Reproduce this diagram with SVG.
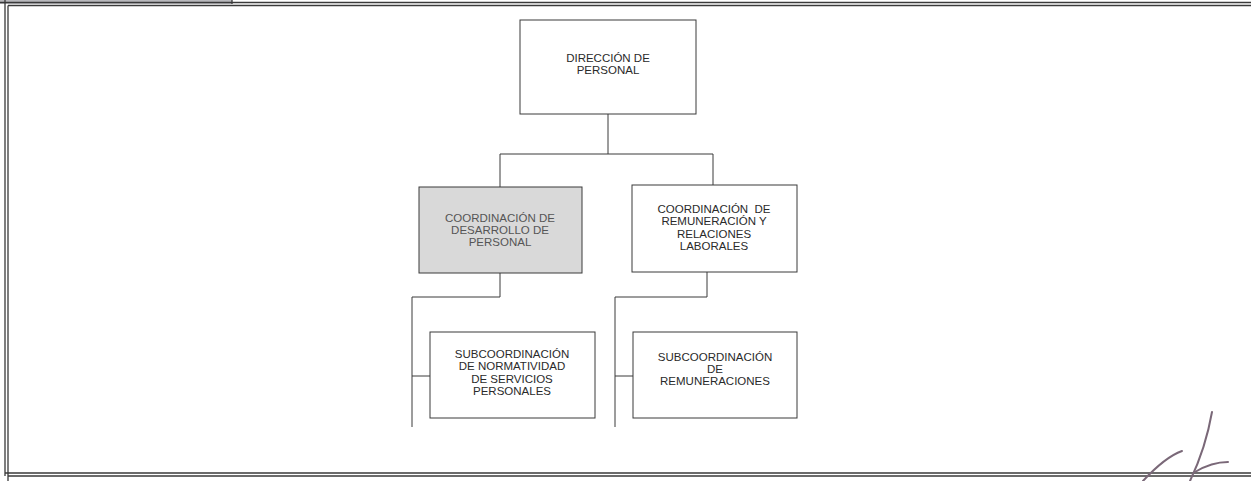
<svg xmlns="http://www.w3.org/2000/svg" width="1251" height="481" viewBox="0 0 1251 481">
<style>
.frame{stroke:#3a3a3a;stroke-width:1.3;fill:none}
.box{fill:#fff;stroke:#3a3a3a;stroke-width:1}
.gray{fill:#d9d9d9;stroke:#3a3a3a;stroke-width:1}
.conn{stroke:#3a3a3a;stroke-width:1;fill:none}
text{font-family:"Liberation Sans",Arial,sans-serif;font-size:11.5px;fill:#2a2a2a;text-anchor:middle}
.g text{fill:#555}
.sig{stroke:#7a6878;stroke-width:2;fill:none;stroke-linecap:round}
</style>
<rect width="1251" height="481" fill="#fff"/>
<g id="frame">
<rect x="0" y="0" width="232" height="4" fill="#b8b8bc"/>
<line class="frame" x1="232" y1="0" x2="232" y2="4"/>
<line class="frame" x1="0" y1="2.5" x2="1251" y2="2.5"/>
<line class="frame" x1="8" y1="5.5" x2="1251" y2="5.5"/>
<line class="frame" x1="5" y1="0" x2="5" y2="476"/>
<line class="frame" x1="8" y1="5.5" x2="8" y2="481"/>
<line class="frame" x1="5" y1="473" x2="1251" y2="473"/>
<line class="frame" x1="8" y1="476" x2="1251" y2="476"/>
</g>
<g id="connectors">
<path class="conn" d="M608,114 V154 M500,154 H713 M500,154 V187 M713,154 V185"/>
<path class="conn" d="M500,273 V297 H412 V427 M412,376 H430"/>
<path class="conn" d="M707,272 V297 H615 V427 M615,376 H633"/>
</g>
<g id="direccion">
<rect class="box" x="520" y="20" width="176" height="94"/>
<text x="608" y="62">DIRECCIÓN DE</text>
<text x="608" y="74">PERSONAL</text>
</g>
<g id="coord-desarrollo" class="g">
<rect class="gray" x="419" y="187" width="163" height="86"/>
<text x="500" y="222">COORDINACIÓN DE</text>
<text x="500" y="234">DESARROLLO DE</text>
<text x="500" y="246">PERSONAL</text>
</g>
<g id="coord-remuneracion">
<rect class="box" x="632" y="185" width="165" height="87"/>
<text x="714" y="213" xml:space="preserve">COORDINACIÓN  DE</text>
<text x="714" y="225">REMUNERACIÓN Y</text>
<text x="714" y="238">RELACIONES</text>
<text x="714" y="250">LABORALES</text>
</g>
<g id="sub-normatividad">
<rect class="box" x="430" y="332" width="165" height="86"/>
<text x="512" y="358">SUBCOORDINACIÓN</text>
<text x="512" y="370">DE NORMATIVIDAD</text>
<text x="512" y="383">DE SERVICIOS</text>
<text x="512" y="395">PERSONALES</text>
</g>
<g id="sub-remuneraciones">
<rect class="box" x="633" y="332" width="164" height="86"/>
<text x="715" y="361">SUBCOORDINACIÓN</text>
<text x="715" y="373">DE</text>
<text x="715" y="385">REMUNERACIONES</text>
</g>
<g id="signature">
<path class="sig" d="M1143,481 C1155,468 1168,456 1182,451"/>
<path class="sig" d="M1212,412 C1208,435 1200,460 1190,481"/>
<path class="sig" d="M1195,472 C1205,466 1218,462 1228,462"/>
</g>
</svg>
